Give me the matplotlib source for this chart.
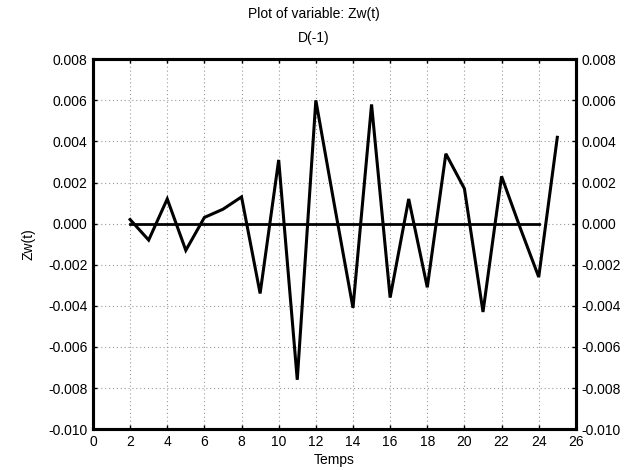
import matplotlib
matplotlib.use("Agg")
import matplotlib.pyplot as plt
import numpy as np

plt.rcParams['font.family'] = ['Liberation Sans', 'DejaVu Sans']

# series Zw(t), differenced once
temps = [2, 3, 4, 5, 6, 7, 8, 9, 10, 11, 12, 13, 14, 15, 16, 17, 18, 19, 20, 21, 22, 23, 24, 25]
zw = [0.0002, -0.0008, 0.0012, -0.0013, 0.0003, 0.0007, 0.0013, -0.0034, 0.0031,
      -0.0076, 0.0060, 0.0009, -0.0041, 0.0058, -0.0036, 0.0012, -0.0031, 0.0034,
      0.0017, -0.0043, 0.0023, -0.0002, -0.0026, 0.0042]
mean_x = [2, 24]
mean_y = [0.0, 0.0]

xticks = np.arange(0, 27, 2)
yticks = np.arange(-0.010, 0.0081, 0.002)

fig = plt.figure(figsize=(6.28, 4.70), dpi=100)
ax = fig.add_axes([0.148, 0.087, 0.769, 0.787])

ax.plot(temps, zw, color='black', lw=2.2, solid_joinstyle='miter')
ax.plot(mean_x, mean_y, color='black', lw=2.0)

ax.set_xlim(0, 26)
ax.set_ylim(-0.010, 0.008)
ax.set_xticks(xticks)
ax.set_yticks(yticks)
ax.set_yticklabels(['%.3f' % v for v in yticks])
ax.grid(True, color='#999999', linestyle=(0, (1, 2.5)), lw=0.8)

for s in ax.spines.values():
    s.set_linewidth(2.2)
ax.tick_params(direction='in', length=3, width=1, labelsize=10, top=True, pad=4)

ax2 = ax.twinx()
ax2.set_ylim(-0.010, 0.008)
ax2.set_yticks(yticks)
ax2.set_yticklabels(['%.3f' % v for v in yticks])
ax2.tick_params(direction='in', length=3, width=1, labelsize=10, pad=4)
for s in ax2.spines.values():
    s.set_linewidth(2.2)

ax.set_xlabel('Temps', fontsize=10, labelpad=3)
ax.set_ylabel('Zw(t)', fontsize=10, labelpad=9)
fig.text(0.5, 0.97, 'Plot of variable: Zw(t)', ha='center', va='center', fontsize=10)
fig.text(0.5, 0.919, 'D(-1)', ha='center', va='center', fontsize=10)

fig.savefig('out.png', dpi=100)
